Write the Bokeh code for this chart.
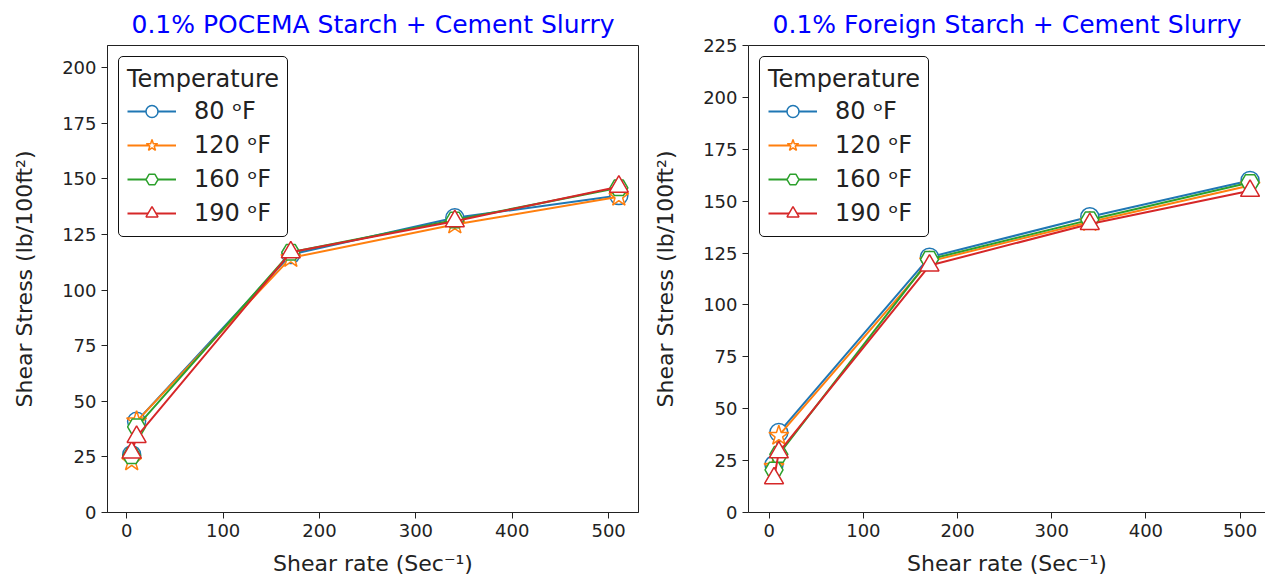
from bokeh.plotting import figure
from bokeh.layouts import row
from bokeh.models import Range1d, FixedTicker, LinearAxis, Legend, LegendItem
from bokeh.embed import file_html
from bokeh.resources import INLINE

# ---- data ----
shear_rate = [5.1, 10.2, 170.2, 340.4, 510.6]
temps = ["80 ᵒF", "120 ᵒF", "160 ᵒF", "190 ᵒF"]

pocema_80 = [26, 41, 116, 132.5, 142.5]
pocema_120 = [23, 41, 114.5, 129.5, 142]
pocema_160 = [25.5, 38.5, 117, 131.5, 146]
pocema_190 = [27, 34, 117, 131, 146.5]

foreign_80 = [23, 38.5, 123, 142.5, 160]
foreign_120 = [22, 37, 121, 140, 157.5]
foreign_160 = [20.5, 28, 122, 141, 159]
foreign_190 = [16.5, 29, 119, 139, 155]

x_ticks = [0, 100, 200, 300, 400, 500]
y_ticks_left = [0, 25, 50, 75, 100, 125, 150, 175, 200]
y_ticks_right = [0, 25, 50, 75, 100, 125, 150, 175, 200, 225]

colors = ["#1f77b4", "#ff7f0e", "#2ca02c", "#d62728"]
markers = ["circle", "star", "hex", "triangle"]
sizes = [18, 21, 18, 19]

FONT = "DejaVu Sans"
INK = "#222222"


def style_axes(p):
    for ax in p.xaxis + p.yaxis:
        ax.major_label_text_font = FONT
        ax.major_label_text_font_size = "18px"
        ax.major_label_text_color = INK
        ax.axis_label_text_font = FONT
        ax.axis_label_text_font_size = "22px"
        ax.axis_label_text_font_style = "normal"
        ax.axis_label_text_color = INK
        ax.minor_tick_line_color = None
        ax.major_tick_out = 6
        ax.major_tick_in = 0
        ax.axis_line_color = INK
        ax.major_tick_line_color = INK
    p.xaxis.axis_label_standoff = 11
    p.yaxis.axis_label_standoff = 22


def make_panel(title, series, xr, yr, yticks, width, border_left, border_right, full_box):
    p = figure(width=width, height=579, output_backend="svg", toolbar_location=None,
               x_range=Range1d(*xr), y_range=Range1d(*yr),
               min_border_left=border_left, min_border_right=border_right,
               min_border_top=45, min_border_bottom=67)
    p.title.text = title
    p.title.text_color = "blue"
    p.title.text_font = FONT
    p.title.text_font_size = "25px"
    p.title.text_font_style = "normal"
    p.title.align = "center"
    p.title.standoff = 14
    p.grid.visible = False
    p.xaxis.ticker = FixedTicker(ticks=x_ticks)
    p.yaxis.ticker = FixedTicker(ticks=yticks)
    p.xaxis.axis_label = "Shear rate (Sec⁻¹)"
    p.yaxis.axis_label = "Shear Stress (lb/100ft²)"
    if full_box:
        p.outline_line_color = INK
        p.outline_line_width = 1
        p.outline_line_alpha = 1
    else:
        p.outline_line_color = None
        top = LinearAxis(ticker=FixedTicker(ticks=[]), major_label_text_font_size="0px",
                         axis_line_color=INK, major_tick_line_color=None,
                         minor_tick_line_color=None)
        p.add_layout(top, "above")
    style_axes(p)

    items = []
    for vals, c, m, s, lab in zip(series, colors, markers, sizes, temps):
        r1 = p.line(shear_rate, vals, line_color=c, line_width=2)
        r2 = p.scatter(shear_rate, vals, marker=m, size=s, fill_color="white",
                       line_color=c, line_width=1.5)
        items.append(LegendItem(label=lab, renderers=[r1, r2]))
    leg = Legend(items=items, location="top_left", title="Temperature")
    leg.title_text_font = FONT
    leg.title_text_font_size = "24px"
    leg.title_text_font_style = "normal"
    leg.title_text_color = INK
    leg.title_standoff = 3
    leg.label_text_font = FONT
    leg.label_text_font_size = "24px"
    leg.label_text_color = INK
    leg.glyph_width = 49
    leg.glyph_height = 30
    leg.label_height = 30
    leg.spacing = 4
    leg.label_standoff = 18
    leg.margin = 11
    leg.padding = 8
    leg.border_line_color = "#111111"
    leg.border_line_width = 1.5
    leg.border_line_alpha = 1
    leg.background_fill_color = "white"
    leg.background_fill_alpha = 1
    if "border_radius" in Legend.properties():
        leg.border_radius = 5
    p.add_layout(leg, "center")
    return p


p1 = make_panel("0.1% POCEMA Starch + Cement Slurry",
                [pocema_80, pocema_120, pocema_160, pocema_190],
                (-20, 531), (0, 210), y_ticks_left, 650, 107, 12, True)
p2 = make_panel("0.1% Foreign Starch + Cement Slurry",
                [foreign_80, foreign_120, foreign_160, foreign_190],
                (-22, 527), (0, 225), y_ticks_right, 615, 93, 0, False)

layout = row(p1, p2)
open("out.html", "w").write(file_html(layout, INLINE))
